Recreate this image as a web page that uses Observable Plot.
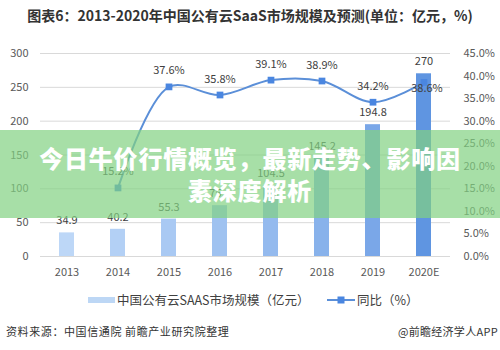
<!DOCTYPE html>
<html><head><meta charset="utf-8">
<script src="https://cdn.jsdelivr.net/npm/d3@7"></script>
<script src="https://cdn.jsdelivr.net/npm/@observablehq/plot@0.6"></script>
<style>
body{margin:0;background:#fff;font-family:"Noto Sans CJK SC","Open Sans",sans-serif;}
#wrap{position:relative;width:500px;height:350px;overflow:hidden;background:#fff;}
#title{position:absolute;left:0;top:5px;width:500px;text-align:center;font-weight:700;font-size:14px;color:#333;line-height:20px;white-space:nowrap;}
#chart{position:absolute;left:0;top:32px;}
.lg{position:absolute;font-size:12.5px;color:#404040;line-height:16px;white-space:nowrap;}
.src{position:absolute;font-size:11px;color:#333;line-height:14px;white-space:nowrap;letter-spacing:0.6px;}
#banner{position:absolute;left:0;top:130px;width:500px;height:88px;background:rgba(130,210,130,0.7);display:flex;align-items:center;justify-content:center;text-align:center;color:#fff;font-weight:900;font-size:24px;line-height:32px;letter-spacing:0.8px;}
</style></head>
<body><div id="wrap">
<div id="title">图表6：2013-2020年中国公有云SaaS市场规模及预测(单位：亿元，%)</div>
<div id="chart"></div>
<div style="position:absolute;left:88px;top:297px;width:27px;height:6px;background:#bdd7f5"></div>
<div class="lg" style="left:117px;top:292px">中国公有云SAAS市场规模（亿元）</div>
<svg style="position:absolute;left:327px;top:295px" width="28" height="10"><line x1="0" y1="5" x2="28" y2="5" stroke="#5b8fd8" stroke-width="2"/><rect x="10.5" y="1.5" width="7" height="7" fill="#4a86e0"/></svg>
<div class="lg" style="left:357px;top:292px">同比（%）</div>
<div class="src" style="left:6px;top:324px">资料来源：中国信通院 前瞻产业研究院整理</div>
<div class="src" style="right:2px;top:324px;letter-spacing:0.3px">@前瞻经济学人APP</div>
<div id="banner"><div>今日牛价行情概览，最新走势、影响因<br>素深度解析</div></div>
</div>
<script>
const years = ["2013","2014","2015","2016","2017","2018","2019","2020E"];
const marketSize = [34.9, 40.2, 55.3, 75.1, 104.5, 145.2, 194.8, 270];
const growth = [null, 15.2, 37.6, 35.8, 39.1, 38.9, 34.2, 38.6];
const leftTicks = [0, 50, 100, 150, 200, 250, 300];
const rightTicks = [0, 5, 10, 15, 20, 25, 30, 35, 40, 45];
const barColors = ["#bdd7f7","#b3d0f5","#a9c9f3","#9fc2f0","#94baee","#88b2eb","#7aa7e8","#5f95e1"];

const leftMax = 300, rightMax = 45;
const toLeft = p => p * leftMax / rightMax;
const rows = years.map((year, i) => ({year, size: marketSize[i], pct: growth[i]}));
const pctRows = rows.filter(d => d.pct != null);

const chart = Plot.plot({
  width: 500, height: 258,
  marginTop: 21, marginBottom: 34, marginLeft: 40, marginRight: 50,
  style: {fontFamily: "'Noto Sans CJK SC','Open Sans',sans-serif", fontSize: "11px", color: "#595959", background: "transparent"},
  x: {domain: years, paddingInner: 0.7, paddingOuter: 0.35},
  y: {domain: [0, leftMax]},
  color: {domain: years, range: barColors},
  marks: [
    Plot.ruleY(leftTicks, {stroke: "#d9d9d9"}),
    Plot.barY(rows, {x: "year", y: "size", fill: "year"}),
    Plot.text(rows, {x: "year", y: "size", text: d => String(d.size), dy: -12, fill: "#404040", fontSize: 11}),
    Plot.line(pctRows, {x: "year", y: d => toLeft(d.pct), stroke: "#5b8fd8", strokeWidth: 2, curve: "catmull-rom"}),
    Plot.dot(pctRows, {x: "year", y: d => toLeft(d.pct), symbol: "square", r: 3.8, fill: "#4a86e0"}),
    Plot.text(pctRows.filter(d => d.year !== "2020E"), {x: "year", y: d => toLeft(d.pct), text: d => d.pct.toFixed(1) + "%", dy: -16, fill: "#404040", fontSize: 11}),
    Plot.text(pctRows.filter(d => d.year === "2020E"), {x: "year", y: d => toLeft(d.pct), text: d => d.pct.toFixed(1) + "%", dy: 6, dx: 3, fill: "#404040", fontSize: 11}),
    Plot.axisY(leftTicks, {anchor: "left", tickSize: 0, tickPadding: 12, label: null, fontSize: 11}),
    Plot.axisY(rightTicks.map(toLeft), {anchor: "right", tickSize: 0, tickPadding: 13, label: null, fontSize: 11, tickFormat: d => (d * rightMax / leftMax).toFixed(1) + "%"}),
    Plot.axisX({tickSize: 0, tickPadding: 12, label: null, fontSize: 11})
  ]
});
document.getElementById("chart").appendChild(chart);
</script>
</body></html>
